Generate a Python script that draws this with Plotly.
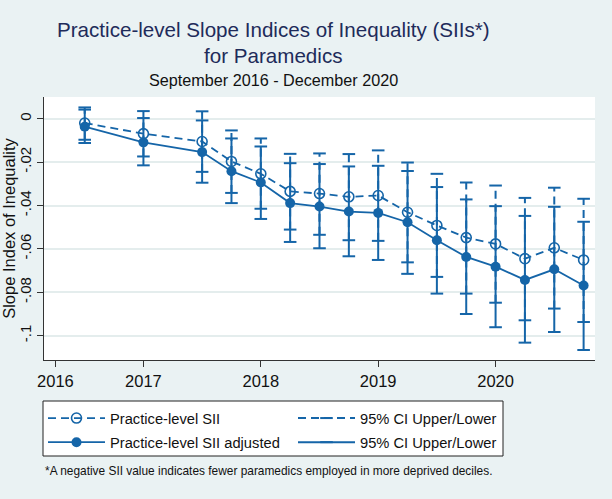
import plotly.graph_objects as go

# ---- data ----
period = [2016.5, 2017.0, 2017.5, 2017.75, 2018.0, 2018.25, 2018.5, 2018.75,
          2019.0, 2019.25, 2019.5, 2019.75, 2020.0, 2020.25, 2020.5, 2020.75]

sii = [-0.0020, -0.0069, -0.0105, -0.0197, -0.0254, -0.0335, -0.0345, -0.0360,
       -0.0354, -0.0431, -0.0492, -0.0548, -0.0577, -0.0645, -0.0595, -0.0651]
sii_upper = [0.0052, 0.0035, 0.0034, -0.0054, -0.0091, -0.0162, -0.0160, -0.0163,
             -0.0146, -0.0202, -0.0254, -0.0294, -0.0308, -0.0365, -0.0318, -0.0369]
sii_lower = [-0.0097, -0.0174, -0.0245, -0.0342, -0.0415, -0.0511, -0.0535, -0.0560,
             -0.0563, -0.0662, -0.0729, -0.0806, -0.0848, -0.0929, -0.0875, -0.0937]

adj = [-0.0037, -0.0109, -0.0154, -0.0242, -0.0294, -0.0389, -0.0405, -0.0428,
       -0.0434, -0.0477, -0.0560, -0.0637, -0.0682, -0.0743, -0.0694, -0.0769]
adj_upper = [0.0042, 0.0003, -0.0008, -0.0091, -0.0128, -0.0205, -0.0209, -0.0220,
             -0.0217, -0.0241, -0.0315, -0.0372, -0.0403, -0.0448, -0.0406, -0.0475]
adj_lower = [-0.0112, -0.0215, -0.0295, -0.0389, -0.0462, -0.0568, -0.0597, -0.0634,
             -0.0651, -0.0715, -0.0806, -0.0900, -0.0961, -0.1032, -0.0983, -0.1066]

x_tickvals = [2016.25, 2017, 2018, 2019, 2020]
x_ticktext = ["2016", "2017", "2018", "2019", "2020"]
y_tickvals = [0, -0.02, -0.04, -0.06, -0.08, -0.1]
y_ticktext = ["0", "-.02", "-.04", "-.06", "-.08", "-.1"]

# ---- styles ----
BLUE = "#1565a8"
BG = "#eaf2f3"
FONT = "Liberation Sans, Arial, sans-serif"


def ci_segments(xs, lo, hi):
    sx, sy = [], []
    for x, l, h in zip(xs, lo, hi):
        sx += [x, x, None]
        sy += [l, h, None]
    return sx, sy


fig = go.Figure()

dx, dy = ci_segments(period, sii_lower, sii_upper)
sx, sy = ci_segments(period, adj_lower, adj_upper)

fig.add_trace(go.Scatter(
    x=dx, y=dy, mode="lines+markers", name="95% CI Upper/Lower",
    line=dict(color=BLUE, width=2, dash="8px,5px"),
    marker=dict(symbol="line-ew", size=9, color=BLUE, line=dict(color=BLUE, width=2)),
    legend="legend2", legendgroup="c1", legendrank=1, hoverinfo="skip"))
fig.add_trace(go.Scatter(
    x=sx, y=sy, mode="lines+markers", name="95% CI Upper/Lower",
    line=dict(color=BLUE, width=2),
    marker=dict(symbol="line-ew", size=9, color=BLUE, line=dict(color=BLUE, width=2)),
    legend="legend2", legendgroup="c2", legendrank=2, hoverinfo="skip"))
fig.add_trace(go.Scatter(
    x=period, y=sii, mode="lines+markers", name="Practice-level SII",
    line=dict(color=BLUE, width=1.8, dash="8px,5px"),
    marker=dict(symbol="circle-open", size=10, color=BLUE, line=dict(color=BLUE, width=1.6)),
    legend="legend", legendgroup="s1", legendrank=1))
fig.add_trace(go.Scatter(
    x=period, y=adj, mode="lines+markers", name="Practice-level SII adjusted",
    line=dict(color=BLUE, width=1.8),
    marker=dict(symbol="circle", size=10, color=BLUE),
    legend="legend", legendgroup="s2", legendrank=2))

W, H = 612, 499
L, R, T, B = 44, 17, 97, 139
pw, ph = W - L - R, H - T - B


def px_x(p):
    return (p - L) / pw


def px_y(p):
    return (H - B - p) / ph


annots = [
    dict(text="Practice-level Slope Indices of Inequality (SIIs*)", x=px_x(273.5), y=px_y(29.5),
         font=dict(size=20.6, color="#1e2b5a")),
    dict(text="for Paramedics", x=px_x(273.5), y=px_y(55.5),
         font=dict(size=20.6, color="#1e2b5a")),
    dict(text="September 2016 - December 2020", x=px_x(273.5), y=px_y(80),
         font=dict(size=16.2, color="#111111")),
]
for a in annots:
    a.update(xref="paper", yref="paper", xanchor="center", yanchor="middle", showarrow=False)
annots.append(dict(
    text="*A negative SII value indicates fewer paramedics employed in more deprived deciles.",
    x=px_x(43), y=px_y(470.5), xref="paper", yref="paper", xanchor="left", yanchor="middle",
    showarrow=False, font=dict(size=11.9, color="#111111")))

legend_common = dict(
    orientation="v", xanchor="left", yanchor="top",
    bgcolor="rgba(0,0,0,0)", borderwidth=0,
    font=dict(size=14.7, color="#111111"),
    itemwidth=57, traceorder="grouped", tracegroupgap=2)

fig.update_layout(
    width=W, height=H,
    margin=dict(l=L, r=R, t=T, b=B, autoexpand=False),
    paper_bgcolor=BG, plot_bgcolor="white",
    font=dict(family=FONT, color="#111111"),
    annotations=annots,
    shapes=[dict(type="rect", xref="paper", yref="paper",
                 x0=px_x(43), x1=px_x(503), y0=px_y(456), y1=px_y(401),
                 fillcolor="white", line=dict(color="#222222", width=1), layer="above")],
    showlegend=True,
    legend=dict(x=px_x(43), y=px_y(402), **legend_common),
    legend2=dict(x=px_x(293), y=px_y(402), **legend_common),
    xaxis=dict(
        range=[2016.153, 2020.847], tickmode="array", tickvals=x_tickvals, ticktext=x_ticktext,
        showgrid=False, zeroline=False, showline=True, linecolor="#333333", linewidth=1.2,
        ticks="outside", ticklen=6, tickcolor="#333333", tickwidth=1.2, automargin=False,
        tickfont=dict(size=16.5, color="#111111")),
    yaxis=dict(
        range=[-0.1112, 0.0100], tickmode="array", tickvals=y_tickvals, ticktext=y_ticktext,
        tickangle=-90, showgrid=True, gridcolor="#e4eded", gridwidth=1.5, zeroline=False,
        showline=True, linecolor="#333333", linewidth=1.2, automargin=False,
        ticks="outside", ticklen=6, tickcolor="#333333", tickwidth=1.2,
        tickfont=dict(size=15, color="#111111"),
        title=dict(text="Slope Index of Inequality", font=dict(size=16.5, color="#111111"), standoff=4)),
)

fig.write_html(
    "out.html",
    config={"displayModeBar": False},
    post_script="document.body.style.margin='0';document.body.style.overflow='hidden';"
                "document.documentElement.style.overflow='hidden';",
)
